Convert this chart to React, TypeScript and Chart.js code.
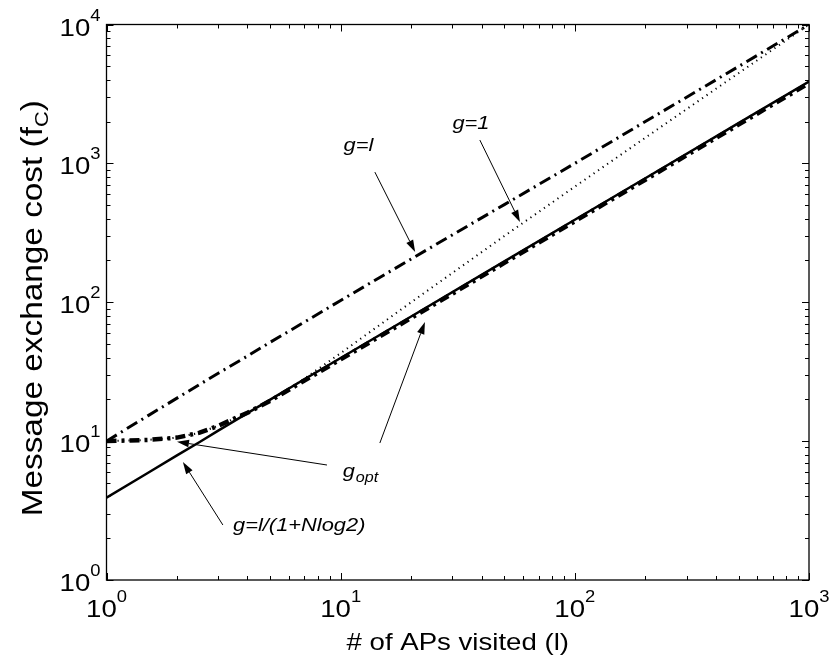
import React, { useEffect, useRef } from 'react';
import { Chart, registerables } from 'chart.js';

Chart.register(...registerables);

// ---------- data ----------
const visitedAPs = [1, 1.5, 2, 2.5, 3, 4, 5, 7, 10, 20, 50, 100, 200, 500, 1000];
const costGEqualL = [10, 15.2, 20.4, 25.6, 30.8, 41, 51.5, 72, 103, 205, 505, 1000, 2000, 4980, 10000];
const costGEqualOne = [10, 10.2, 10.6, 11.5, 12.9, 16.0, 19.6, 28.2, 43, 100, 300, 680, 1530, 4460, 10000];
const costGApprox = [3.92, 5.9, 7.9, 9.85, 11.9, 15.9, 19.9, 27.9, 39.7, 79, 197, 393, 782, 1950, 3880];
const costGOpt = [10, 10.2, 10.6, 11.5, 12.9, 16.0, 19.5, 27.3, 38.8, 77, 192, 383, 763, 1900, 3780];

const xTickExponents = [0, 1, 2, 3];
const yTickExponents = [0, 1, 2, 3, 4];
const xTitle = '# of APs visited (l)';
const yTitleMain = 'Message exchange cost (f';
const yTitleSub = 'C';
const yTitleEnd = ')';

// annotation texts, anchored in data units
const annotationLabels = [
  { text: 'g=l', sub: '', x: 11.9, y: 1227, align: 'center' },
  { text: 'g=1', sub: '', x: 36, y: 1766, align: 'center' },
  { text: 'g', sub: 'opt', x: 10.2, y: 5.51, align: 'left' },
  { text: 'g=l/(1+Nlog2)', sub: '', x: 3.47, y: 2.25, align: 'left' },
];
const annotationArrows = [
  { from: [14.0, 865], to: [20.8, 230] },
  { from: [39.3, 1472], to: [58.3, 378] },
  { from: [8.74, 6.73], to: [2.0, 9.9] },
  { from: [14.7, 9.69], to: [22.9, 72] },
  { from: [3.14, 2.49], to: [2.12, 7.07] },
];

const FONT = '"Liberation Sans", Arial, Helvetica, sans-serif';
const STRETCH = 1.15;

function toPoints(values: number[]) {
  return visitedAPs.map((l, i) => ({ x: l, y: values[i] }));
}

function textWidth(ctx: CanvasRenderingContext2D, text: string, font: string) {
  ctx.font = font;
  return ctx.measureText(text).width * STRETCH;
}

function drawText(ctx: CanvasRenderingContext2D, text: string, x: number, y: number, font: string) {
  ctx.save();
  ctx.font = font;
  ctx.textAlign = 'left';
  ctx.textBaseline = 'alphabetic';
  ctx.translate(x, y);
  ctx.scale(STRETCH, 1);
  ctx.fillText(text, 0, 0);
  ctx.restore();
}

function drawArrow(ctx: CanvasRenderingContext2D, x1: number, y1: number, x2: number, y2: number) {
  const ang = Math.atan2(y2 - y1, x2 - x1);
  const hl = 12;
  const hw = 3.8;
  const bx = x2 - hl * Math.cos(ang);
  const by = y2 - hl * Math.sin(ang);
  ctx.beginPath();
  ctx.moveTo(x1, y1);
  ctx.lineTo(bx, by);
  ctx.lineWidth = 1;
  ctx.stroke();
  ctx.beginPath();
  ctx.moveTo(x2, y2);
  ctx.lineTo(bx + hw * Math.sin(ang), by - hw * Math.cos(ang));
  ctx.lineTo(bx - hw * Math.sin(ang), by + hw * Math.cos(ang));
  ctx.closePath();
  ctx.fill();
}

const matlabAxes = {
  id: 'matlabAxes',
  afterDraw(chart: any) {
    const { ctx, chartArea } = chart;
    const { left, right, top, bottom } = chartArea;
    const xs = chart.scales.x;
    const ys = chart.scales.y;
    ctx.save();
    ctx.strokeStyle = '#000';
    ctx.fillStyle = '#000';
    ctx.lineWidth = 1.3;
    ctx.strokeRect(left, top, right - left, bottom - top);

    // ticks (inward, all four sides)
    ctx.lineWidth = 1;
    const majorLen = 7;
    const minorLen = 4;
    for (let e = xTickExponents[0]; e <= xTickExponents[xTickExponents.length - 1]; e++) {
      for (let m = 1; m <= 9; m++) {
        const v = m * Math.pow(10, e);
        if (v > xs.max + 1e-9) continue;
        const px = Math.round(xs.getPixelForValue(v)) + 0.5;
        const len = m === 1 ? majorLen : minorLen;
        ctx.beginPath();
        ctx.moveTo(px, bottom);
        ctx.lineTo(px, bottom - len);
        ctx.moveTo(px, top);
        ctx.lineTo(px, top + len);
        ctx.stroke();
      }
    }
    for (let e = yTickExponents[0]; e <= yTickExponents[yTickExponents.length - 1]; e++) {
      for (let m = 1; m <= 9; m++) {
        const v = m * Math.pow(10, e);
        if (v > ys.max + 1e-9) continue;
        const py = Math.round(ys.getPixelForValue(v)) + 0.5;
        const len = m === 1 ? majorLen : minorLen;
        ctx.beginPath();
        ctx.moveTo(left, py);
        ctx.lineTo(left + len, py);
        ctx.moveTo(right, py);
        ctx.lineTo(right - len, py);
        ctx.stroke();
      }
    }

    // tick labels
    const bigFont = `24px ${FONT}`;
    const supFont = `16px ${FONT}`;
    xTickExponents.forEach((e) => {
      const px = xs.getPixelForValue(Math.pow(10, e));
      const w10 = textWidth(ctx, '10', bigFont);
      const we = textWidth(ctx, String(e), supFont);
      const start = px - (w10 + we) / 2;
      drawText(ctx, '10', start, bottom + 37, bigFont);
      drawText(ctx, String(e), start + w10, bottom + 22, supFont);
    });
    yTickExponents.forEach((e) => {
      const py = ys.getPixelForValue(Math.pow(10, e));
      const we = textWidth(ctx, String(e), supFont);
      const w10 = textWidth(ctx, '10', bigFont);
      const endX = left - 6;
      drawText(ctx, '10', endX - we - w10, py + 11, bigFont);
      drawText(ctx, String(e), endX - we, py - 4, supFont);
    });

    // x title
    const xFont = `24px ${FONT}`;
    const wx = textWidth(ctx, xTitle, xFont);
    drawText(ctx, xTitle, (left + right) / 2 - wx / 2, bottom + 70, xFont);

    // y title (rotated)
    const yFont = `29px ${FONT}`;
    const ySubFont = `19px ${FONT}`;
    ctx.save();
    ctx.translate(42, (top + bottom) / 2 + 6);
    ctx.rotate(-Math.PI / 2);
    const wm = textWidth(ctx, yTitleMain, yFont);
    const ws = textWidth(ctx, yTitleSub, ySubFont);
    const wEnd = textWidth(ctx, yTitleEnd, yFont);
    let sx = -(wm + ws + wEnd) / 2;
    drawText(ctx, yTitleMain, sx, 0, yFont);
    sx += wm;
    drawText(ctx, yTitleSub, sx, 6, ySubFont);
    sx += ws;
    drawText(ctx, yTitleEnd, sx, 0, yFont);
    ctx.restore();

    // annotations
    const annFont = `italic 19px ${FONT}`;
    const annSubFont = `italic 14px ${FONT}`;
    annotationLabels.forEach((a) => {
      const px = xs.getPixelForValue(a.x);
      const py = ys.getPixelForValue(a.y);
      const wt = textWidth(ctx, a.text, annFont);
      const wsub = a.sub ? textWidth(ctx, a.sub, annSubFont) : 0;
      const start = a.align === 'center' ? px - (wt + wsub) / 2 : px;
      drawText(ctx, a.text, start, py, annFont);
      if (a.sub) drawText(ctx, a.sub, start + wt + 1, py + 5, annSubFont);
    });
    annotationArrows.forEach((a) => {
      drawArrow(
        ctx,
        xs.getPixelForValue(a.from[0]),
        ys.getPixelForValue(a.from[1]),
        xs.getPixelForValue(a.to[0]),
        ys.getPixelForValue(a.to[1])
      );
    });
    ctx.restore();
  },
};

export default function App() {
  const canvasRef = useRef<HTMLCanvasElement | null>(null);

  useEffect(() => {
    const canvas = canvasRef.current;
    if (!canvas) return;
    const chart = new Chart(canvas, {
      type: 'scatter',
      data: {
        datasets: [
          {
            label: 'g_opt',
            data: toPoints(costGOpt),
            showLine: true,
            borderColor: '#000',
            borderWidth: 4.5,
            borderDash: [10, 5, 3, 5],
            pointRadius: 0,
            fill: false,
          },
          {
            label: 'g=l',
            data: toPoints(costGEqualL),
            showLine: true,
            borderColor: '#000',
            borderWidth: 3,
            borderDash: [12, 5, 2, 5],
            pointRadius: 0,
            fill: false,
          },
          {
            label: 'g=1',
            data: toPoints(costGEqualOne),
            showLine: true,
            borderColor: '#000',
            borderWidth: 2,
            borderDash: [1.2, 4.3],
            pointRadius: 0,
            fill: false,
          },
          {
            label: 'g=l/(1+Nlog2)',
            data: toPoints(costGApprox),
            showLine: true,
            borderColor: '#000',
            borderWidth: 2.5,
            pointRadius: 0,
            fill: false,
          },
        ],
      },
      options: {
        responsive: false,
        animation: false,
        events: [],
        layout: { padding: { left: 0, top: 24.5, right: 22, bottom: 0 } },
        plugins: { legend: { display: false }, tooltip: { enabled: false } },
        scales: {
          x: {
            type: 'logarithmic',
            min: 1,
            max: 1000,
            ticks: { display: false },
            grid: { display: false },
            border: { display: false },
            afterFit: (s: any) => {
              s.height = 80;
            },
          },
          y: {
            type: 'logarithmic',
            min: 1,
            max: 10000,
            ticks: { display: false },
            grid: { display: false },
            border: { display: false },
            afterFit: (s: any) => {
              s.width = 106.5;
            },
          },
        },
      },
      plugins: [matlabAxes],
    });
    return () => chart.destroy();
  }, []);

  return (
    <div style={{ position: 'fixed', left: 0, top: 0, width: 831, height: 660, background: '#fff' }}>
      <canvas ref={canvasRef} width={831} height={660} style={{ display: 'block' }} />
    </div>
  );
}
